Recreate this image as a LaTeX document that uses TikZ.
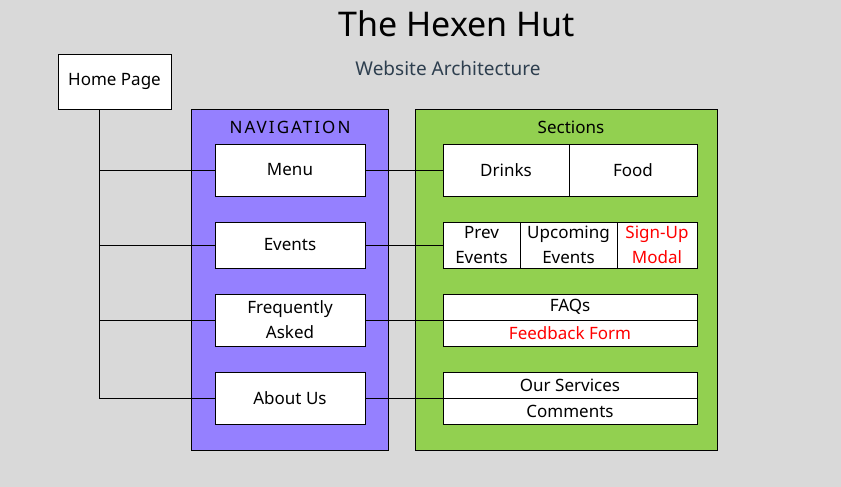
\documentclass[tikz,border=0pt]{standalone}
\usepackage{fontspec}
\setmainfont{Noto Sans}
\begin{document}
\begin{tikzpicture}[x=1pt,y=-1pt,
  every node/.style={inner sep=0pt,outer sep=0pt},
  box/.style={draw=black,line width=0.8pt,fill=white,font=\fontsize{17}{25}\selectfont,align=center},
  panel/.style={draw=black,line width=0.8pt},
  paneltitle/.style={font=\fontsize{17}{20}\selectfont},
  link/.style={draw=black,line width=0.8pt},
  warn/.style={text=red}]
\definecolor{bg}{HTML}{D9D9D9}
\definecolor{navfill}{HTML}{9580FF}
\definecolor{secfill}{HTML}{92D050}
\definecolor{subtitle}{HTML}{2E3F4F}
\fill[bg] (0,0) rectangle (841,487);
\useasboundingbox (0,0) rectangle (841,487);

% titles
\node (title) at (457,24) {\fontsize{34}{40}\selectfont The Hexen Hut};
\node[text=subtitle] (subtitle) at (448,68) {\fontsize{19}{22}\selectfont Website Architecture};

% panels
\node[panel,fill=navfill,minimum width=197pt,minimum height=341pt] (nav) at (289.5,279.5) {};
\node[paneltitle] (navlabel) at (290,127) {\addfontfeature{LetterSpace=12}NAVIGATION};
\node[panel,fill=secfill,minimum width=302pt,minimum height=341pt] (sec) at (566,279.5) {};
\node[paneltitle] (seclabel) at (571,127) {Sections};

% home page
\node[box,minimum width=113pt,minimum height=55pt] (home) at (114.5,81.5) {Home Page};

% navigation items
\node[box,minimum width=150pt,minimum height=52pt] (menu) at (290,170) {Menu};
\node[box,minimum width=150pt,minimum height=46pt] (events) at (290,245) {Events};
\node[box,minimum width=150pt,minimum height=52pt] (faq) at (290,320) {Frequently\\Asked};
\node[box,minimum width=150pt,minimum height=52pt] (about) at (290,398) {About Us};

% sections: row 1
\node[box,minimum width=126pt,minimum height=52pt] (drinks) at (506,170) {Drinks};
\node[box,minimum width=128pt,minimum height=52pt] (food) at (633,170) {Food};
% row 2
\node[box,minimum width=77pt,minimum height=46pt] (prev) at (481.5,245) {Prev\\Events};
\node[box,minimum width=97pt,minimum height=46pt] (upcoming) at (568.5,245) {Upcoming\\Events};
\node[box,warn,minimum width=80pt,minimum height=46pt] (signup) at (657,245) {Sign-Up\\Modal};
% row 3
\node[box,minimum width=254pt,minimum height=26pt] (faqs) at (570,307) {FAQs};
\node[box,warn,minimum width=254pt,minimum height=26pt] (feedback) at (570,333) {Feedback Form};
% row 4
\node[box,minimum width=254pt,minimum height=26pt] (services) at (570,385) {Our Services};
\node[box,minimum width=254pt,minimum height=26pt] (comments) at (570,411) {Comments};

% connectors
\coordinate (trunk) at (99,109);
\draw[link] (trunk) |- (about.west);
\draw[link] (trunk |- menu.west) -- (menu.west);
\draw[link] (trunk |- events.west) -- (events.west);
\draw[link] (trunk |- faq.west) -- (faq.west);
\draw[link] (menu.east) -- (drinks.west);
\draw[link] (events.east) -- (prev.west);
\draw[link] (faq.east) -- (faqs.south west);
\draw[link] (about.east) -- (services.south west);
\end{tikzpicture}
\end{document}
